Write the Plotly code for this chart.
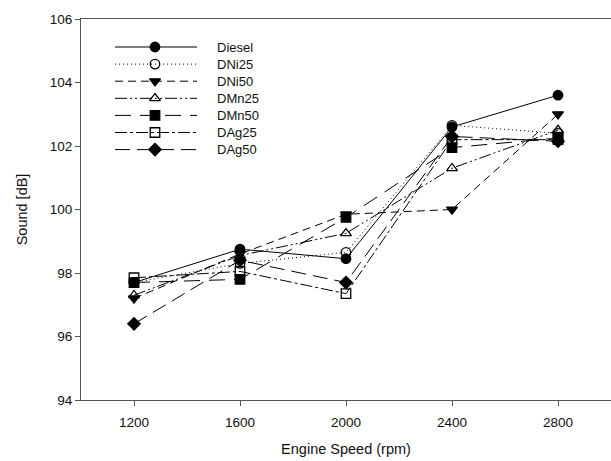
import plotly.graph_objects as go

speed = [1200, 1600, 2000, 2400, 2800]
series_names = ["Diesel", "DNi25", "DNi50", "DMn25", "DMn50", "DAg25", "DAg50"]
diesel = [97.7, 98.75, 98.45, 102.6, 103.6]
dni25 = [97.7, 98.3, 98.65, 102.65, 102.4]
dni50 = [97.2, 98.6, 99.85, 100.0, 103.0]
dmn25 = [97.3, 98.55, 99.25, 101.3, 102.5]
dmn50 = [97.7, 97.8, 99.75, 101.95, 102.25]
dag25 = [97.85, 98.05, 97.35, 102.2, 102.2]
dag50 = [96.4, 98.4, 97.7, 102.3, 102.15]
values = [diesel, dni25, dni50, dmn25, dmn50, dag25, dag50]

y_ticks = [94, 96, 98, 100, 102, 104, 106]
x_ticks = [1200, 1600, 2000, 2400, 2800]

styles = [
    dict(dash="solid", symbol="circle"),
    dict(dash="1px,3px", symbol="circle-open"),
    dict(dash="8px,5px", symbol="triangle-down"),
    dict(dash="12px,3px,2px,3px,2px,3px", symbol="triangle-up-open"),
    dict(dash="16px,9px", symbol="square"),
    dict(dash="12px,3px,3px,3px", symbol="square-open"),
    dict(dash="15px,7px", symbol="diamond"),
]

fig = go.Figure()
for name, vals, st in zip(series_names, values, styles):
    fig.add_trace(go.Scatter(
        x=speed, y=vals, name=name, mode="lines+markers",
        line=dict(color="black", width=1, dash=st["dash"]),
        marker=dict(symbol=st["symbol"], size=9.5, color="black",
                    line=dict(color="black", width=1.3)),
        showlegend=False, cliponaxis=False,
    ))

# custom legend (long line samples like the original)
leg_x0, leg_x1, leg_xm, leg_tx = 34, 116, 74, 134
for i, (name, st) in enumerate(zip(series_names, styles)):
    yy = 28 + 17.1 * i
    fig.add_trace(go.Scatter(
        x=[leg_x0, leg_x1], y=[yy, yy], mode="lines", xaxis="x2", yaxis="y2",
        line=dict(color="black", width=1, dash=st["dash"]), showlegend=False,
        hoverinfo="skip"))
    fig.add_trace(go.Scatter(
        x=[leg_xm], y=[yy], mode="markers", xaxis="x2", yaxis="y2",
        marker=dict(symbol=st["symbol"], size=9.5, color="black",
                    line=dict(color="black", width=1.3)),
        showlegend=False, hoverinfo="skip"))
    fig.add_annotation(x=leg_tx, y=yy, xref="x2", yref="y2", text=name,
                       showarrow=False, xanchor="left", yanchor="middle",
                       font=dict(size=13, color="#111"))

fig.update_layout(
    width=611, height=461,
    margin=dict(l=81, r=0, t=19, b=61),
    paper_bgcolor="white", plot_bgcolor="white",
    font=dict(family="Liberation Sans, Arial, sans-serif", size=13, color="#111"),
    xaxis=dict(range=[1000, 3000], tickvals=x_ticks, ticks="outside", ticklen=5,
               tickcolor="#555", showline=True, linecolor="#555", linewidth=1.2,
               mirror=True, showgrid=False, zeroline=False, ticklabelstandoff=5,
               title=dict(text="Engine Speed (rpm)", standoff=14,
                          font=dict(size=14.5, color="#111")),
               tickfont=dict(size=13.5, color="#111")),
    yaxis=dict(range=[94, 106], tickvals=y_ticks, ticks="outside", ticklen=5,
               tickcolor="#555", showline=True, linecolor="#555", linewidth=1.2,
               mirror=False, showgrid=False, zeroline=False,
               title=dict(text="Sound [dB]", standoff=18,
                          font=dict(size=14.5, color="#111")),
               tickfont=dict(size=13.5, color="#111")),
    xaxis2=dict(range=[0, 530], overlaying="x", visible=False, fixedrange=True),
    yaxis2=dict(range=[381, 0], overlaying="y", visible=False, fixedrange=True),
)

fig.write_html("out.html")
